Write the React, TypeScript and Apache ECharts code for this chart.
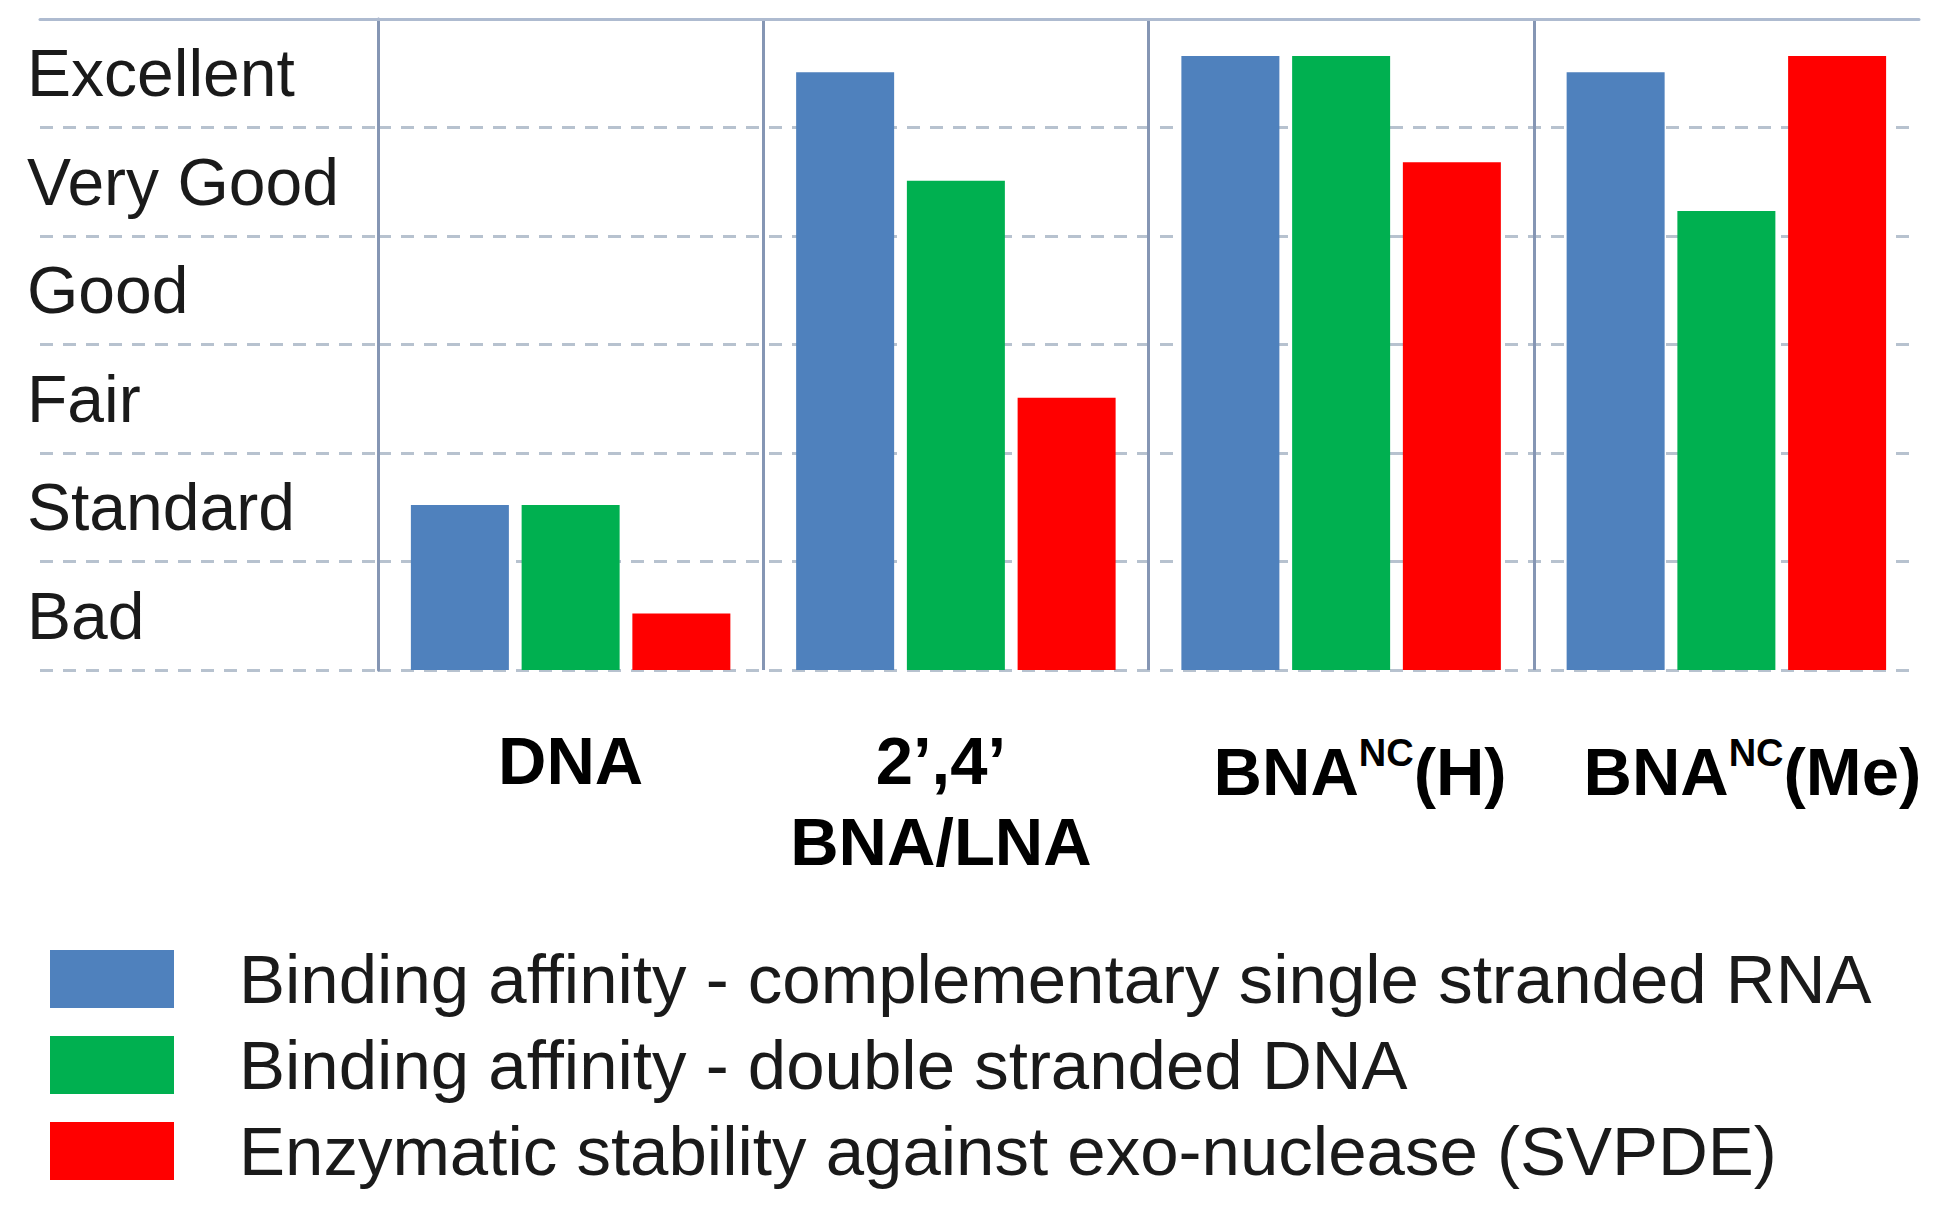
import React, { useEffect, useRef } from "react";
import * as echarts from "echarts";

// Rating scale shown in the left-hand label column (bottom to top)
const ratingLevels = ["Bad", "Standard", "Fair", "Good", "Very Good", "Excellent"];

// Oligonucleotide chemistries, written with rich-text markup for the superscript
// and a small per-label nudge of the centring
const oligoLabels = [
  "DNA",
  "{lna|2’,4’}\n{lna|BNA/LNA}",
  "{nch|BNA}{sup|NC}(H)",
  "{ncm|BNA}{sup|NC}(Me)",
];

const seriesNames = [
  "Binding affinity - complementary single stranded RNA",
  "Binding affinity - double stranded DNA",
  "Enzymatic stability against exo-nuclease (SVPDE)",
];

// Scores on the 0–6 rating scale
const ssRnaAffinity = [1.52, 5.51, 5.66, 5.51];
const dsDnaAffinity = [1.52, 4.51, 5.66, 4.23];
const svpdeStability = [0.52, 2.51, 4.68, 5.66];

const seriesColors = ["#4F81BD", "#00B050", "#FF0000"];

const FONT = "'Liberation Sans', Arial, sans-serif";
const GRID_TOP = 19;
const GRID_HEIGHT = 651;
const dashStyle = { color: "#b7c2cf", width: 3, type: [13, 10] as number[] };
const sepStyle = { color: "#8596b4", width: 3 };
const topLineStyle = { color: "#aebbd0", width: 3 };

const boldText = {
  fontFamily: FONT,
  fontWeight: "bold" as const,
  fontSize: 67,
  color: "#000000",
};

export default function App() {
  const ref = useRef<HTMLDivElement>(null);

  useEffect(() => {
    if (!ref.current) return;
    const chart = echarts.init(ref.current, undefined, { renderer: "svg" });

    const values = [ssRnaAffinity, dsDnaAffinity, svpdeStability];

    chart.setOption({
      animation: false,
      backgroundColor: "#ffffff",
      grid: [
        { left: 40, width: 338, top: GRID_TOP, height: GRID_HEIGHT },
        { left: 378, right: 25, top: GRID_TOP, height: GRID_HEIGHT },
      ],
      xAxis: [
        {
          gridIndex: 0,
          type: "value",
          position: "top",
          min: 0,
          max: 1,
          axisLine: { show: true, lineStyle: topLineStyle },
          axisTick: { show: false },
          axisLabel: { show: false },
          splitLine: { show: false },
        },
        {
          gridIndex: 1,
          type: "category",
          data: oligoLabels,
          position: "bottom",
          axisLine: { show: false },
          axisTick: { show: false },
          splitLine: { show: true, showMaxLine: false, lineStyle: sepStyle },
          axisLabel: {
            interval: 0,
            margin: 50,
            ...boldText,
            lineHeight: 81,
            rich: {
              lna: { ...boldText, lineHeight: 81, padding: [0, 30, 0, 0] },
              nch: { ...boldText, lineHeight: 103, padding: [0, 0, 0, 38] },
              ncm: { ...boldText, lineHeight: 103, padding: [0, 0, 0, 52] },
              sup: {
                ...boldText,
                fontSize: 38,
                lineHeight: 103,
                padding: [0, 0, 37, 0],
                verticalAlign: "middle",
              },
            },
          },
        },
        {
          gridIndex: 1,
          type: "category",
          data: oligoLabels,
          position: "top",
          axisLine: { show: true, lineStyle: topLineStyle },
          axisTick: { show: false },
          axisLabel: { show: false },
          splitLine: { show: false },
        },
      ],
      yAxis: [
        {
          gridIndex: 0,
          type: "category",
          data: ratingLevels,
          boundaryGap: true,
          axisLine: { show: false },
          axisTick: { show: false },
          splitLine: { show: true, showMaxLine: false, lineStyle: dashStyle },
          axisLabel: {
            align: "left",
            margin: 13,
            color: "#1a1a1a",
            fontFamily: FONT,
            fontSize: 66,
          },
        },
        {
          gridIndex: 1,
          type: "value",
          min: 0,
          max: 6,
          interval: 1,
          axisLine: { show: true, lineStyle: sepStyle },
          axisTick: { show: false },
          axisLabel: { show: false },
          splitLine: { show: true, showMaxLine: false, lineStyle: dashStyle },
        },
      ],
      legend: {
        orient: "vertical",
        left: 50,
        top: 944,
        padding: 0,
        itemWidth: 124,
        itemHeight: 58,
        itemGap: 16,
        icon: "rect",
        data: seriesNames,
        textStyle: {
          fontFamily: FONT,
          fontSize: 69,
          lineHeight: 70,
          color: "#1a1a1a",
          padding: [0, 0, 0, 60],
        },
      },
      series: seriesNames.map((name, i) => ({
        name,
        type: "bar",
        xAxisIndex: 1,
        yAxisIndex: 1,
        data: values[i],
        barWidth: 98,
        barGap: "13%",
        itemStyle: { color: seriesColors[i] },
      })),
    });

    return () => chart.dispose();
  }, []);

  return (
    <div
      ref={ref}
      style={{ position: "fixed", left: 0, top: 0, width: 1944, height: 1218, background: "#fff" }}
    />
  );
}
